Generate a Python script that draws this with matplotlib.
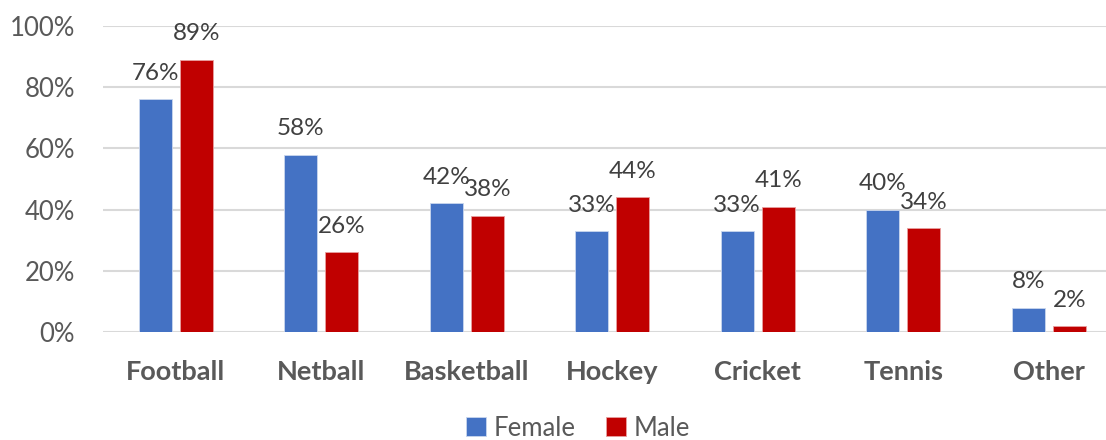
import numpy as np
import matplotlib.pyplot as plt
from matplotlib.ticker import PercentFormatter

plt.rcParams['font.family'] = ['Lato', 'DejaVu Sans']

# Daten
sports = ['Football', 'Netball', 'Basketball', 'Hockey', 'Cricket', 'Tennis', 'Other']
female = [76, 58, 42, 33, 33, 40, 8]
male = [89, 26, 38, 44, 41, 34, 2]

blue = '#4472C4'
red = '#C00000'

fig = plt.figure(figsize=(11.06, 4.4), dpi=100)
ax = fig.add_axes([103/1106, 1 - 332/440, 1003/1106, 306/440])

x = np.arange(len(sports))
w = 0.227
off = 0.141

b1 = ax.bar(x - off, female, w, color=blue, edgecolor='#C9D6EE', linewidth=0.6, label='Female', zorder=3)
b2 = ax.bar(x + off, male, w, color=red, edgecolor='#E8A0A0', linewidth=0.6, label='Male', zorder=3)

for bars, vals in ((b1, female), (b2, male)):
    for b, v in zip(bars, vals):
        ax.annotate(f'{v}%', (b.get_x() + b.get_width()/2, v), xytext=(0, 11),
                    textcoords='offset points', ha='center', va='bottom',
                    fontsize=17.5, color='#404040')

ax.set_xlim(-0.5, -0.5 + 1003/145.5)
ax.set_ylim(0, 100)
ax.set_yticks(range(0, 101, 20))
ax.yaxis.set_major_formatter(PercentFormatter(decimals=0))
ax.set_xticks(x)
ax.set_xticklabels(sports, fontweight='bold', fontsize=19.5)
ax.tick_params(axis='both', length=0, colors='#595959')
ax.tick_params(axis='y', pad=20, labelsize=18.5)
ax.tick_params(axis='x', pad=20)

ax.grid(axis='y', color='#D9D9D9', linewidth=1.5, zorder=0)
for s in ax.spines.values():
    s.set_visible(False)

leg = fig.legend(loc='center', bbox_to_anchor=(578/1106, 1 - 428/440), ncol=2, frameon=False,
                 fontsize=18.5, handlelength=0.75, handleheight=0.75, handletextpad=0.3,
                 columnspacing=1.2)
for t in leg.get_texts():
    t.set_color('#595959')

plt.savefig('out.png', dpi=100)
